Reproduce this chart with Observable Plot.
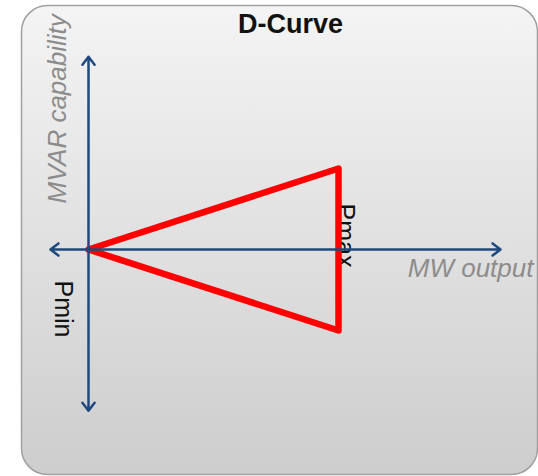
<!DOCTYPE html>
<html>
<head>
<meta charset="utf-8">
<script src="https://cdn.jsdelivr.net/npm/d3@7"></script>
<script src="https://cdn.jsdelivr.net/npm/@observablehq/plot@0.6"></script>
<style>
  html, body { margin: 0; padding: 0; background: #ffffff; }
  #chart svg { display: block; }
</style>
</head>
<body>
<div id="chart"></div>
<script>
// ---- data ----
const title = "D-Curve";
const xLabel = "MW output";
const yLabel = "MVAR capability";
const pmaxLabel = "Pmax";
const pminLabel = "Pmin";

// D-curve triangle (MW, MVAR) in normalized units
const curveMW   = [0, 100, 100, 0];
const curveMVAR = [0, 100, -100, 0];

// axis arrow extents
const axisMWMin = -15.2, axisMWMax = 164.8;
const axisMVARMin = -199, axisMVARMax = 238;

const curve = curveMW.map((p, i) => ({p, q: curveMVAR[i]}));
const arrows = [
  {x1: 0, y1: 0, x2: axisMWMax, y2: 0},
  {x1: 0, y1: 0, x2: axisMWMin, y2: 0},
  {x1: 0, y1: 0, x2: 0, y2: axisMVARMax},
  {x1: 0, y1: 0, x2: 0, y2: axisMVARMin}
];

const font = "'Liberation Sans', Arial, Helvetica, sans-serif";
const axisColor = "#1f4a7e";

const defs = () => {
  const d = d3.create("svg:defs");
  const g = d.append("linearGradient").attr("id", "bg").attr("x1", 0).attr("y1", 0).attr("x2", 0).attr("y2", 1);
  g.append("stop").attr("offset", "0%").attr("stop-color", "#f4f4f4");
  g.append("stop").attr("offset", "100%").attr("stop-color", "#cdcdcd");
  return d.node();
};

const chart = Plot.plot({
  width: 538,
  height: 476,
  marginTop: 5,
  marginLeft: 21,
  marginRight: 1,
  marginBottom: 2,
  style: {background: "transparent", fontFamily: font},
  x: {domain: [0, 100], range: [88, 338], axis: null},
  y: {domain: [0, 100], range: [249, 168], axis: null},
  marks: [
    defs,
    Plot.frame({fill: "url(#bg)", stroke: "#a0a0a0", strokeWidth: 1.5, rx: 26}),
    Plot.text([title], {frameAnchor: "top", text: d => d, dx: 11, dy: 27, lineAnchor: "bottom",
      fontSize: 27, fontWeight: "bold", fill: "#111", fontFamily: font}),
    Plot.text([yLabel], {x: 0, y: 0, text: d => d, rotate: -90, textAnchor: "start", lineAnchor: "bottom",
      dx: -23, dy: -46, fontSize: 26, fontStyle: "italic", fill: "#8c8c8c", fontFamily: font}),
    Plot.text([xLabel], {x: axisMWMax, y: 0, text: d => d, textAnchor: "end", lineAnchor: "bottom",
      dx: 33, dy: 27, fontSize: 26, fontStyle: "italic", fill: "#8c8c8c", fontFamily: font}),
    Plot.text([pmaxLabel], {x: 100, y: 0, text: d => d, rotate: 90, textAnchor: "start", lineAnchor: "bottom",
      dx: -2, dy: -46, fontSize: 25, fill: "#111", fontFamily: font}),
    Plot.text([pminLabel], {x: 0, y: 0, text: d => d, rotate: 90, textAnchor: "start", lineAnchor: "bottom",
      dx: -34, dy: 31, fontSize: 25, fill: "#111", fontFamily: font}),
    Plot.line(curve, {x: "p", y: "q", stroke: "#ff0000", strokeWidth: 6.5, strokeLinejoin: "round", strokeLinecap: "round"}),
    Plot.arrow(arrows, {x1: "x1", y1: "y1", x2: "x2", y2: "y2", stroke: axisColor, strokeWidth: 2.5,
      headLength: 6, headAngle: 75, insetEnd: 0})
  ]
});

document.getElementById("chart").appendChild(chart);
</script>
</body>
</html>
